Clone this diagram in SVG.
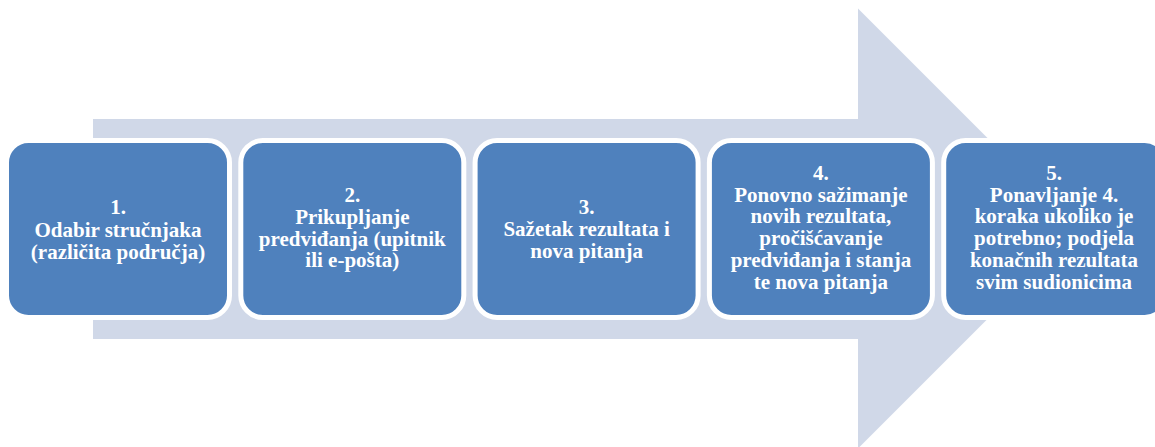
<svg xmlns="http://www.w3.org/2000/svg" width="1155" height="447" viewBox="0 0 1155 447">
<style>
.box{fill:#4f81bd;stroke:#ffffff;stroke-width:5}
text{font-family:"Liberation Serif","Times New Roman",serif;font-weight:700;font-size:21px;fill:#ffffff;text-anchor:middle}
</style>
<rect width="1155" height="447" fill="#ffffff"/>
<g id="arrow">
<polygon points="93,119 858,119 858,8.5 1078,228.5 858,448.5 858,339 93,339" fill="#d0d8e8"/>
</g>
<g id="connectors"></g>
<g id="node1">
<rect class="box" x="6.5" y="140.5" width="223" height="177" rx="22"/>
<text x="118" y="214.3">1.</text>
<text x="118" y="236.5">Odabir stručnjaka</text>
<text x="118" y="258.5">(različita područja)</text>
</g>
<g id="node2">
<rect class="box" x="240.8" y="140.5" width="223" height="177" rx="22"/>
<text x="352.3" y="202.3">2.</text>
<text x="352.3" y="224">Prikupljanje</text>
<text x="352.3" y="245.8">predviđanja (upitnik</text>
<text x="352.3" y="267.4">ili e-pošta)</text>
</g>
<g id="node3">
<rect class="box" x="475.1" y="140.5" width="223" height="177" rx="22"/>
<text x="586.6" y="214.3">3.</text>
<text x="586.6" y="236.3">Sažetak rezultata i</text>
<text x="586.6" y="258">nova pitanja</text>
</g>
<g id="node4">
<rect class="box" x="709.4" y="140.5" width="223" height="177" rx="22"/>
<text x="820.9" y="180">4.</text>
<text x="820.9" y="201.7">Ponovno sažimanje</text>
<text x="820.9" y="223.4">novih rezultata,</text>
<text x="820.9" y="245.1">pročišćavanje</text>
<text x="820.9" y="266.8">predviđanja i stanja</text>
<text x="820.9" y="288.5">te nova pitanja</text>
</g>
<g id="node5">
<rect class="box" x="943.7" y="140.5" width="223" height="177" rx="22"/>
<text x="1054" y="180">5.</text>
<text x="1054" y="201.7">Ponavljanje 4.</text>
<text x="1054" y="223.4">koraka ukoliko je</text>
<text x="1054" y="245.1">potrebno; podjela</text>
<text x="1054" y="266.8">konačnih rezultata</text>
<text x="1054" y="288.5">svim sudionicima</text>
</g>
</svg>
